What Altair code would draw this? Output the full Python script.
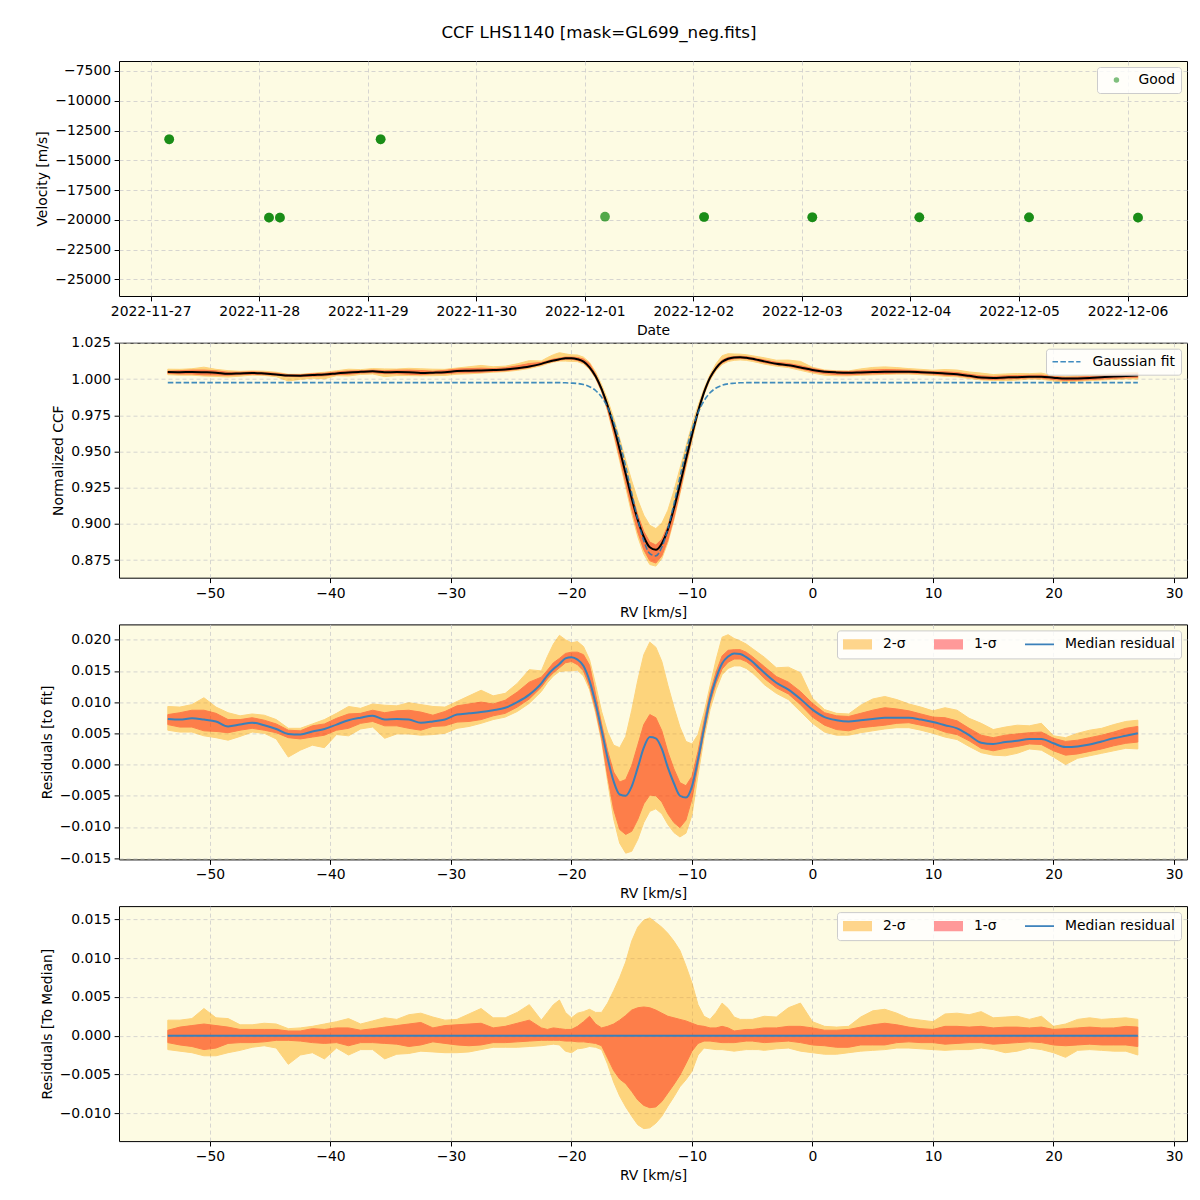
import altair as alt
import pandas as pd

FONT = "DejaVu Sans"

# ---------------- Panel 1 data: RV per epoch ----------------
obs_time_utc = [
    "2022-11-27T04:06:00Z", "2022-11-28T02:10:00Z", "2022-11-28T04:35:00Z",
    "2022-11-29T02:51:00Z", "2022-12-01T04:28:00Z", "2022-12-02T02:22:00Z",
    "2022-12-03T02:18:00Z", "2022-12-04T01:58:00Z", "2022-12-05T02:13:00Z",
    "2022-12-06T02:19:00Z",
]
obs_velocity_ms = [-13237, -19823, -19823, -13237, -19740, -19766, -19790, -19795, -19795, -19823]
obs_n_ccf = [2, 2, 2, 2, 1, 2, 2, 2, 2, 2]
obs_flag = "Good"
day_ticks = [(2022, 11, 27), (2022, 11, 28), (2022, 11, 29), (2022, 11, 30), (2022, 12, 1),
             (2022, 12, 2), (2022, 12, 3), (2022, 12, 4), (2022, 12, 5), (2022, 12, 6)]
velocity_ticks = [-25000, -22500, -20000, -17500, -15000, -12500, -10000, -7500]

# ---------------- CCF data (RV grid in km/s) ----------------
rv_kms = [
    -53.5, -52.5, -51.5, -50.5, -49.5, -48.5, -47.5, -46.5, -45.5, -44.5,
    -43.5, -42.5, -41.5, -40.5, -39.5, -38.5, -37.5, -36.5, -35.5, -34.5,
    -33.5, -32.5, -31.5, -30.5, -29.5, -28.5, -27.5, -26.5, -25.5, -24.5,
    -23.5, -22.5,
    -22.0, -21.5, -21.0, -20.5, -20.0, -19.5, -19.0, -18.5, -18.0, -17.5,
    -17.0, -16.5, -16.0, -15.5, -15.0, -14.5, -14.0, -13.5, -13.0, -12.5,
    -12.0, -11.5, -11.0, -10.5, -10.0, -9.5, -9.0, -8.5, -8.0, -7.5,
    -7.0, -6.5, -6.0, -5.5, -5.0, -4.5, -4.0,
    -3, -2, -1, 0, 1, 2, 3, 4, 5, 6,
    7, 8, 9, 10, 11, 12, 13, 14, 15, 16,
    17, 18, 19, 20, 21, 22, 23, 24, 25, 26,
    27,
]
gauss_fit = [
    0.9975, 0.9975, 0.9975, 0.9975, 0.9975, 0.9975, 0.9975, 0.9975, 0.9975, 0.9975,
    0.9975, 0.9975, 0.9975, 0.9975, 0.9975, 0.9975, 0.9975, 0.9975, 0.9975, 0.9975,
    0.9975, 0.9975, 0.9975, 0.9975, 0.9975, 0.9975, 0.9975, 0.9975, 0.9975, 0.9975,
    0.9975, 0.9975,
    0.9975, 0.9975, 0.9975, 0.9974, 0.9972, 0.9969, 0.9962, 0.9947, 0.9921, 0.9875,
    0.9805, 0.9701, 0.9562, 0.9394, 0.9210, 0.9031, 0.8884, 0.8794, 0.8779, 0.8840,
    0.8967, 0.9136, 0.9322, 0.9499, 0.9650, 0.9767, 0.9850, 0.9905, 0.9938, 0.9957,
    0.9967, 0.9971, 0.9974, 0.9975, 0.9975, 0.9975, 0.9975,
    0.9975, 0.9975, 0.9975, 0.9975, 0.9975, 0.9975, 0.9975, 0.9975, 0.9975, 0.9975,
    0.9975, 0.9975, 0.9975, 0.9975, 0.9975, 0.9975, 0.9975, 0.9975, 0.9975, 0.9975,
    0.9975, 0.9975, 0.9975, 0.9975, 0.9975, 0.9975, 0.9975, 0.9975, 0.9975, 0.9975,
    0.9975,
]
median_residual = [
    0.0073, 0.0072, 0.0074, 0.0072, 0.0069, 0.0061, 0.0064, 0.0067, 0.0063, 0.0057,
    0.0049, 0.0048, 0.0053, 0.0057, 0.0064, 0.0071, 0.0075, 0.0078, 0.0072, 0.0073,
    0.0072, 0.0067, 0.0069, 0.0072, 0.0080, 0.0082, 0.0084, 0.0087, 0.0091, 0.0100,
    0.0112, 0.0130,
    0.0143, 0.0153, 0.0161, 0.0170, 0.0172, 0.0168, 0.0158, 0.0134, 0.0098, 0.0055,
    0.0010, -0.0027, -0.0048, -0.0050, -0.0035, -0.0005, 0.0027, 0.0044, 0.0042, 0.0025,
    -0.0005, -0.0030, -0.0050, -0.0053, -0.0035, 0.0008, 0.0058, 0.0105, 0.0138, 0.0162,
    0.0173, 0.0178, 0.0177, 0.0172, 0.0165, 0.0156, 0.0147,
    0.0131, 0.0120, 0.0105, 0.0088, 0.0076, 0.0071, 0.0069, 0.0071, 0.0073, 0.0075,
    0.0075, 0.0075, 0.0072, 0.0068, 0.0063, 0.0058, 0.0047, 0.0035, 0.0033, 0.0036,
    0.0038, 0.0041, 0.0041, 0.0034, 0.0028, 0.0029, 0.0032, 0.0037, 0.0042, 0.0046,
    0.0050,
]
# band edges relative to the median residual
sig2_hi = [
    0.0020, 0.0020, 0.0022, 0.0035, 0.0023, 0.0022, 0.0014, 0.0014, 0.0016, 0.0015,
    0.0009, 0.0010, 0.0012, 0.0015, 0.0018, 0.0022, 0.0015, 0.0019, 0.0023, 0.0021,
    0.0027, 0.0029, 0.0024, 0.0020, 0.0021, 0.0028, 0.0035, 0.0023, 0.0023, 0.0030,
    0.0040, 0.0020,
    0.0030, 0.0040, 0.0046, 0.0030, 0.0023, 0.0029, 0.0031, 0.0034, 0.0030, 0.0030,
    0.0042, 0.0058, 0.0075, 0.0095, 0.0122, 0.0140, 0.0149, 0.0152, 0.0146, 0.0140,
    0.0132, 0.0122, 0.0110, 0.0090, 0.0068, 0.0040, 0.0025, 0.0021, 0.0030, 0.0042,
    0.0035, 0.0024, 0.0021, 0.0021, 0.0021, 0.0023, 0.0025,
    0.0024, 0.0036, 0.0042, 0.0018, 0.0012, 0.0011, 0.0012, 0.0024, 0.0032, 0.0034,
    0.0029, 0.0022, 0.0020, 0.0018, 0.0028, 0.0029, 0.0027, 0.0031, 0.0023, 0.0024,
    0.0025, 0.0021, 0.0025, 0.0012, 0.0015, 0.0021, 0.0023, 0.0021, 0.0022, 0.0023,
    0.0021,
]
sig1_hi = [
    0.0007, 0.0011, 0.0013, 0.0015, 0.0013, 0.0011, 0.0008, 0.0008, 0.0008, 0.0008,
    0.0006, 0.0006, 0.0009, 0.0008, 0.0010, 0.0010, 0.0007, 0.0009, 0.0011, 0.0013,
    0.0015, 0.0017, 0.0010, 0.0013, 0.0014, 0.0015, 0.0016, 0.0010, 0.0012, 0.0016,
    0.0020, 0.0010,
    0.0008, 0.0010, 0.0009, 0.0008, 0.0008, 0.0012, 0.0018, 0.0025, 0.0015, 0.0010,
    0.0012, 0.0015, 0.0020, 0.0026, 0.0033, 0.0036, 0.0037, 0.0036, 0.0033, 0.0029,
    0.0025, 0.0023, 0.0021, 0.0019, 0.0016, 0.0013, 0.0012, 0.0010, 0.0010, 0.0012,
    0.0010, 0.0006, 0.0007, 0.0008, 0.0008, 0.0009, 0.0010,
    0.0010, 0.0012, 0.0012, 0.0010, 0.0007, 0.0007, 0.0008, 0.0011, 0.0014, 0.0016,
    0.0014, 0.0011, 0.0009, 0.0008, 0.0012, 0.0012, 0.0011, 0.0012, 0.0010, 0.0011,
    0.0011, 0.0010, 0.0011, 0.0008, 0.0009, 0.0010, 0.0011, 0.0010, 0.0010, 0.0012,
    0.0011,
]
sig1_lo = [
    -0.0009, -0.0012, -0.0014, -0.0018, -0.0016, -0.0010, -0.0009, -0.0009, -0.0008, -0.0006,
    -0.0006, -0.0007, -0.0009, -0.0010, -0.0009, -0.0013, -0.0009, -0.0009, -0.0010, -0.0011,
    -0.0014, -0.0012, -0.0008, -0.0010, -0.0012, -0.0013, -0.0012, -0.0009, -0.0009, -0.0008,
    -0.0007, -0.0006,
    -0.0006, -0.0006, -0.0006, -0.0007, -0.0007, -0.0008, -0.0008, -0.0009, -0.0010, -0.0013,
    -0.0029, -0.0045, -0.0056, -0.0062, -0.0072, -0.0083, -0.0090, -0.0093, -0.0092, -0.0085,
    -0.0074, -0.0063, -0.0051, -0.0036, -0.0020, -0.0010, -0.0007, -0.0007, -0.0008, -0.0009,
    -0.0009, -0.0009, -0.0008, -0.0007, -0.0007, -0.0008, -0.0009,
    -0.0008, -0.0007, -0.0009, -0.0012, -0.0013, -0.0015, -0.0015, -0.0012, -0.0012, -0.0012,
    -0.0009, -0.0008, -0.0009, -0.0009, -0.0011, -0.0010, -0.0009, -0.0009, -0.0011, -0.0010,
    -0.0009, -0.0008, -0.0009, -0.0012, -0.0013, -0.0012, -0.0011, -0.0012, -0.0012, -0.0012,
    -0.0014,
]
sig2_lo = [
    -0.0018, -0.0020, -0.0022, -0.0026, -0.0026, -0.0022, -0.0019, -0.0015, -0.0013, -0.0016,
    -0.0037, -0.0025, -0.0022, -0.0030, -0.0016, -0.0025, -0.0018, -0.0018, -0.0030, -0.0024,
    -0.0023, -0.0020, -0.0021, -0.0022, -0.0022, -0.0021, -0.0018, -0.0015, -0.0015, -0.0015,
    -0.0014, -0.0013,
    -0.0012, -0.0011, -0.0012, -0.0020, -0.0022, -0.0017, -0.0016, -0.0014, -0.0015, -0.0018,
    -0.0037, -0.0060, -0.0078, -0.0092, -0.0104, -0.0115, -0.0120, -0.0119, -0.0113, -0.0104,
    -0.0091, -0.0079, -0.0066, -0.0057, -0.0046, -0.0025, -0.0016, -0.0017, -0.0018, -0.0018,
    -0.0019, -0.0020, -0.0019, -0.0018, -0.0018, -0.0018, -0.0019,
    -0.0017, -0.0016, -0.0020, -0.0022, -0.0024, -0.0024, -0.0022, -0.0020, -0.0019, -0.0018,
    -0.0016, -0.0016, -0.0017, -0.0018, -0.0019, -0.0018, -0.0018, -0.0016, -0.0018, -0.0022,
    -0.0020, -0.0016, -0.0018, -0.0022, -0.0028, -0.0019, -0.0018, -0.0019, -0.0020, -0.0020,
    -0.0025,
]
rv_ticks = [-50, -40, -30, -20, -10, 0, 10, 20, 30]
ccf_ticks = [0.875, 0.900, 0.925, 0.950, 0.975, 1.000, 1.025]
res_ticks = [-0.015, -0.010, -0.005, 0.000, 0.005, 0.010, 0.015, 0.020]
med_ticks = [-0.010, -0.005, 0.000, 0.005, 0.010, 0.015]
band_labels = ["2-σ", "1-σ", "Median residual"]

n = len(rv_kms)
for arr in (gauss_fit, median_residual, sig2_hi, sig1_hi, sig1_lo, sig2_lo):
    assert len(arr) == n, len(arr)

# ---------------- styles ----------------
BG = "#fdfbe3"
ORANGE = "#ffa500"
RED = "#ff0000"
BLUE = "#3a80ba"
W, H = 1068, 235
RV_DOMAIN = [-57.55, 31.08]

# ---------------- tables ----------------
rows = []
for t, v, k in zip(obs_time_utc, obs_velocity_ms, obs_n_ccf):
    for _ in range(k):
        rows.append({"time": t, "velocity": v, "flag": obs_flag})
obs_df = pd.DataFrame(rows)

df = pd.DataFrame({
    "rv": rv_kms, "fit": gauss_fit, "med": median_residual,
    "u2": sig2_hi, "u1": sig1_hi, "l1": sig1_lo, "l2": sig2_lo,
})
df["ccf"] = df["fit"] + df["med"]
df["ccf_2lo"] = df["ccf"] + df["l2"]
df["ccf_2hi"] = df["ccf"] + df["u2"]
df["ccf_1lo"] = df["ccf"] + df["l1"]
df["ccf_1hi"] = df["ccf"] + df["u1"]
df["res_2lo"] = df["med"] + df["l2"]
df["res_2hi"] = df["med"] + df["u2"]
df["res_1lo"] = df["med"] + df["l1"]
df["res_1hi"] = df["med"] + df["u1"]
df["zero"] = 0.0
df["fit_label"] = "Gaussian fit"


def x_rv():
    return alt.X("rv:Q", scale=alt.Scale(domain=RV_DOMAIN, nice=False, zero=False),
                 axis=alt.Axis(values=rv_ticks, format="d", title="RV [km/s]"))


def y_q(field, domain, ticks, title):
    return alt.Y(f"{field}:Q", scale=alt.Scale(domain=domain, nice=False, zero=False),
                 axis=alt.Axis(values=ticks, format=".3f", title=title))


def band_legend():
    return alt.Legend(title=None, orient="top-right", columns=3, direction="horizontal",
                      symbolSize=841, symbolOpacity=1, symbolStrokeWidth=0, clipHeight=16,
                      labelOffset=11, columnPadding=28, padding=6, offset=6)


def residual_panel(lo2, hi2, lo1, hi1, mid, domain, ticks, title, leg_val):
    yy = lambda f: y_q(f, domain, ticks, title)
    leg_df = pd.DataFrame({"series": band_labels,
                           "rv": [rv_kms[0], rv_kms[0], rv_kms[0]],
                           "val": [leg_val, leg_val, leg_val]})
    base = alt.Chart(df)
    a2 = base.mark_area(color=ORANGE, opacity=0.45, stroke=ORANGE, strokeWidth=1).encode(
        x=x_rv(), y=yy(lo2), y2=f"{hi2}:Q")
    a1 = base.mark_area(color=RED, opacity=0.4, stroke=RED, strokeWidth=1).encode(
        x=x_rv(), y=yy(lo1), y2=f"{hi1}:Q")
    ln = base.mark_line(color=BLUE, strokeWidth=2, interpolate="monotone").encode(
        x=x_rv(), y=yy(mid))
    leg = alt.Chart(leg_df).mark_point(filled=True, size=841).encode(
        x=x_rv(), y=yy("val"),
        color=alt.Color("series:N", scale=alt.Scale(domain=band_labels,
                        range=["#fed58c", "#ff9999", BLUE]), legend=band_legend()),
        shape=alt.Shape("series:N", scale=alt.Scale(domain=band_labels,
                        range=["M-1,-0.36H1V0.36H-1Z", "M-1,-0.36H1V0.36H-1Z",
                               "M-1,-0.06H1V0.06H-1Z"]), legend=band_legend()),
        opacity=alt.value(0))
    return alt.layer(a2, a1, ln, leg).properties(width=W, height=H)


# ---------------- Panel 1 ----------------
utc = lambda y, m, d, h=0, mi=0: alt.DateTime(year=y, month=m, date=d, hours=h, minutes=mi, utc=True)
p1 = alt.Chart(obs_df).mark_point(filled=True, size=95, opacity=0.68).encode(
    x=alt.X("time:T", scale=alt.Scale(type="utc", domain=[utc(2022, 11, 26, 17, 0), utc(2022, 12, 6, 13, 9)]),
            axis=alt.Axis(values=[utc(*d) for d in day_ticks], format="%Y-%m-%d", title="Date")),
    y=alt.Y("velocity:Q", scale=alt.Scale(domain=[-26403, -6660], nice=False, zero=False),
            axis=alt.Axis(values=velocity_ticks, format="d", title="Velocity [m/s]")),
    color=alt.Color("flag:N", scale=alt.Scale(domain=[obs_flag], range=["green"]),
                    legend=alt.Legend(title=None, orient="top-right", symbolType="circle",
                                      symbolSize=30, symbolOpacity=0.5, symbolStrokeWidth=0,
                                      symbolOffset=7, labelOffset=15, padding=5.5, offset=6,
                                      clipHeight=15)),
).properties(width=W, height=H)

# ---------------- Panel 2 ----------------
CCF_DOM = [0.8628, 1.0251]
yc = lambda f: y_q(f, CCF_DOM, ccf_ticks, "Normalized CCF")
b2 = alt.Chart(df)
p2 = alt.layer(
    b2.mark_area(color=ORANGE, opacity=0.45, stroke=ORANGE, strokeWidth=1).encode(
        x=x_rv(), y=yc("ccf_2lo"), y2="ccf_2hi:Q"),
    b2.mark_area(color=RED, opacity=0.4, stroke=RED, strokeWidth=1).encode(
        x=x_rv(), y=yc("ccf_1lo"), y2="ccf_1hi:Q"),
    b2.mark_line(color="black", strokeWidth=2, interpolate="monotone").encode(
        x=x_rv(), y=yc("ccf")),
    b2.mark_line(strokeWidth=1.6, strokeDash=[5.5, 2.4], opacity=0.85, interpolate="monotone").encode(
        x=x_rv(), y=yc("fit"),
        color=alt.Color("fit_label:N", scale=alt.Scale(domain=["Gaussian fit"], range=["#1f77b4"]),
                        legend=alt.Legend(title=None, orient="top-right", symbolType="stroke",
                                          symbolDash=[5.5, 2.4], symbolStrokeWidth=1.6,
                                          symbolSize=784, labelOffset=11, padding=5.5, offset=6,
                                          clipHeight=15))),
).properties(width=W, height=H)

# ---------------- Panels 3 & 4 ----------------
p3 = residual_panel("res_2lo", "res_2hi", "res_1lo", "res_1hi", "med",
                    [-0.0152, 0.02245], res_ticks, "Residuals [to fit]", median_residual[0])
p4 = residual_panel("l2", "u2", "l1", "u1", "zero",
                    [-0.01361, 0.01672], med_ticks, "Residuals [To Median]", 0.0)

chart = alt.vconcat(p1, p2, p3, p4, spacing=46.7, bounds="flush").resolve_scale(
    color="independent", shape="independent"
).resolve_legend(
    color="independent", shape="independent"
).properties(
    title=alt.TitleParams("CCF LHS1140 [mask=GL699_neg.fits]", font=FONT, fontSize=16.7,
                          fontWeight="normal", color="black", anchor="middle", frame="group",
                          dx=-54, offset=19),
    padding={"left": 35, "top": 24, "right": 12, "bottom": 5},
).configure_view(
    fill=BG, stroke="black", strokeWidth=1,
).configure_axis(
    labelFont=FONT, labelFontSize=13.9, labelColor="black",
    titleFont=FONT, titleFontSize=13.9, titleFontWeight="normal", titleColor="black",
    titlePadding=5, tickColor="black", tickSize=4.9, tickWidth=1, labelPadding=3.5,
    domain=False, grid=True, gridColor="#cccccc", gridDash=[4, 3], gridWidth=0.8,
).configure_legend(
    labelFont=FONT, labelFontSize=13.9, labelColor="black",
    fillColor="rgba(255,255,255,0.8)", strokeColor="#cccccc", cornerRadius=3,
)

chart.save("out.html", embed_options={"renderer": "svg", "actions": False})
